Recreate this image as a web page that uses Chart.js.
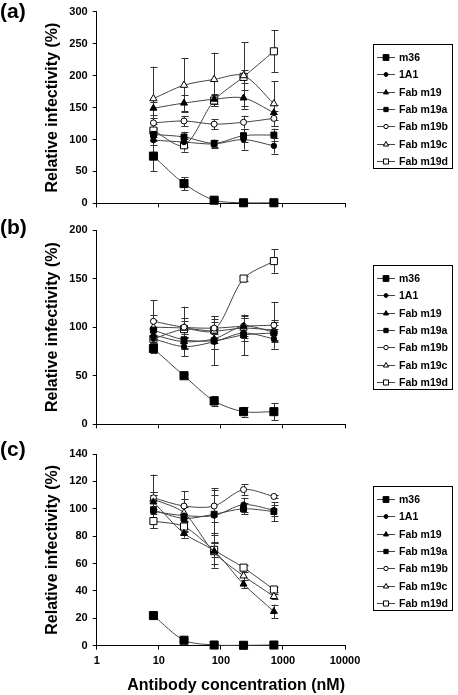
<!DOCTYPE html>
<html><head><meta charset="utf-8">
<script src="https://cdn.jsdelivr.net/npm/chart.js@4.4.0/dist/chart.umd.min.js"></script>
<style>
html,body{margin:0;padding:0;background:#fff;}
body{width:458px;height:695px;position:relative;overflow:hidden;font-family:"Liberation Sans",Arial,sans-serif;}
canvas{position:absolute;left:0;}
.lbl{position:absolute;left:0;font-weight:bold;font-size:21px;line-height:1;color:#000;}
</style></head><body>
<canvas id="ca" width="458" height="215" style="top:0px"></canvas>
<canvas id="cb" width="458" height="225" style="top:215px"></canvas>
<canvas id="cc" width="458" height="255" style="top:440px"></canvas>
<div class="lbl" style="top:0px">(a)</div>
<div class="lbl" style="top:216px">(b)</div>
<div class="lbl" style="top:438px">(c)</div>
<script>
// ---- data ----
const concentrations = [8.2, 25.5, 78, 232, 715];
const seriesNames = ['m36', '1A1', 'Fab m19', 'Fab m19a', 'Fab m19b', 'Fab m19c', 'Fab m19d'];
const xTickValues = [1, 10, 100, 1000, 10000];
const yTicksA = [0, 50, 100, 150, 200, 250, 300];
const yTicksB = [0, 50, 100, 150, 200];
const yTicksC = [0, 20, 40, 60, 80, 100, 120, 140];

// order: m36, 1A1, Fab m19, Fab m19a, Fab m19b, Fab m19c, Fab m19d
const valuesA = [
  [74, 31, 5, 1, 1],
  [99, 96, 93, 100, 90],
  [149, 157, 163, 165, 142],
  [108, 104, 94, 106, 107],
  [126, 129, 124, 127, 133],
  [164, 185, 194, 200, 156],
  [114, 91, 161, 198, 238]
];
const errorsA = [
  [24, 10, 2, 1, 1],
  [8, 8, 6, 16, 12],
  [10, 12, 8, 12, 12],
  [8, 8, 6, 10, 10],
  [8, 8, 8, 10, 12],
  [50, 42, 42, 52, 35],
  [10, 10, 8, 10, 33]
];
const valuesB = [
  [78, 50, 24, 13, 13],
  [88, 80, 85, 94, 88],
  [92, 85, 88, 101, 95],
  [97, 87, 86, 92, 94],
  [106, 100, 99, 101, 102],
  [100, 99, 96, 99, 97],
  [88, 98, 97, 150, 168]
];
const errorsB = [
  [5, 2, 5, 5, 9],
  [8, 10, 8, 8, 10],
  [8, 8, 10, 8, 10],
  [10, 10, 25, 21, 8],
  [22, 21, 12, 10, 24],
  [12, 10, 12, 10, 10],
  [8, 8, 8, 3, 12]
];
const valuesC = [
  [22, 4, 0.5, 0.3, 0.5],
  [98, 95, 95, 103, 99],
  [105, 82, 69, 45, 25],
  [99, 93, 96, 100, 98],
  [108, 102, 102, 114, 109],
  [107, 97, 68, 51, 36],
  [91, 87, 70, 57, 41]
];
const errorsC = [
  [1.5, 1, 0, 0, 0],
  [12, 12, 20, 5, 4],
  [5, 3, 12, 3, 5],
  [13, 14, 14, 4, 7],
  [17, 11, 12, 4, 1],
  [5, 4, 8, 3, 2],
  [5, 3, 5, 2, 2]
];

// ---- styles ----
const markerStyles = [
  {pointStyle: 'rect', radius: 5.7, fill: '#000'},
  {pointStyle: 'circle', radius: 2.7, fill: '#000'},
  {pointStyle: 'triangle', radius: 4, fill: '#000'},
  {pointStyle: 'rect', radius: 4.2, fill: '#000'},
  {pointStyle: 'circle', radius: 3, fill: '#fff'},
  {pointStyle: 'triangle', radius: 4.2, fill: '#fff'},
  {pointStyle: 'rect', radius: 5, fill: '#fff'}
];
const FONT = '"Liberation Sans", Arial, sans-serif';

const errorBarPlugin = {
  id: 'errorBars',
  beforeDatasetsDraw(chart) {
    const ctx = chart.ctx, ys = chart.scales.y;
    ctx.save();
    ctx.strokeStyle = '#333';
    ctx.lineWidth = 1;
    chart.data.datasets.forEach((ds, i) => {
      const meta = chart.getDatasetMeta(i);
      meta.data.forEach((pt, j) => {
        const e = ds.errors[j];
        if (!e) return;
        const v = ds.data[j].y;
        const t = ys.getPixelForValue(v + e);
        const b = ys.getPixelForValue(Math.max(v - e, 0));
        const x = Math.round(pt.x) + 0.5;
        ctx.beginPath();
        ctx.moveTo(x, t); ctx.lineTo(x, b);
        ctx.moveTo(x - 3, Math.round(t) + 0.5); ctx.lineTo(x + 4, Math.round(t) + 0.5);
        ctx.moveTo(x - 3, Math.round(b) + 0.5); ctx.lineTo(x + 4, Math.round(b) + 0.5);
        ctx.stroke();
      });
    });
    ctx.restore();
  }
};

const boxLegendPlugin = {
  id: 'boxLegend',
  afterDraw(chart, args, opts) {
    const ctx = chart.ctx;
    const {left, top, width, height, firstY, rowH} = opts;
    ctx.save();
    ctx.strokeStyle = '#000';
    ctx.lineWidth = 1;
    ctx.strokeRect(left + 0.5, top + 0.5, width, height);
    ctx.font = 'bold 10.5px ' + FONT;
    ctx.textBaseline = 'middle';
    chart.data.datasets.forEach((ds, i) => {
      const yy = Math.round(top + firstY + i * rowH);
      ctx.strokeStyle = '#444';
      ctx.beginPath();
      ctx.moveTo(left + 4, yy + 0.5); ctx.lineTo(left + 22, yy + 0.5);
      ctx.stroke();
      ctx.fillStyle = ds.pointBackgroundColor;
      ctx.strokeStyle = '#000';
      ctx.lineWidth = 1;
      Chart.helpers.drawPoint(ctx, {pointStyle: ds.pointStyle, radius: ds.pointRadius * 0.72, borderWidth: 1, rotation: 0}, left + 13, yy + 0.5);
      ctx.fillStyle = '#000';
      ctx.fillText(ds.label, left + 26, yy + 1);
    });
    ctx.restore();
  }
};

function makePanel(id, values, errors, yTicks, plotTop, plotBottom, canvasH, legendTop, showX) {
  const datasets = seriesNames.map((name, i) => ({
    label: name,
    data: concentrations.map((c, k) => ({x: c, y: values[i][k]})),
    errors: errors[i],
    borderColor: '#444',
    borderWidth: 1,
    tension: 0.3,
    pointStyle: markerStyles[i].pointStyle,
    pointRadius: markerStyles[i].radius,
    pointBackgroundColor: markerStyles[i].fill,
    pointBorderColor: '#000',
    pointBorderWidth: 1,
    clip: false
  }));
  return new Chart(document.getElementById(id), {
    type: 'line',
    data: {datasets},
    plugins: [errorBarPlugin, boxLegendPlugin],
    options: {
      responsive: false,
      animation: false,
      devicePixelRatio: 1,
      layout: {padding: {top: plotTop, left: 0, right: 113, bottom: 0}},
      plugins: {
        legend: {display: false},
        tooltip: {enabled: false},
        boxLegend: {left: 373, top: legendTop, width: 79, height: 124, firstY: 13, rowH: 17.3}
      },
      scales: {
        x: {
          type: 'logarithmic',
          min: 1, max: 10000,
          afterBuildTicks: s => { s.ticks = xTickValues.map(v => ({value: v})); },
          afterFit: s => { s.height = canvasH - plotBottom; },
          ticks: {display: showX, callback: v => String(v), color: '#000', font: {family: FONT, size: 11, weight: 'bold'}, padding: 5, maxRotation: 0, autoSkip: false},
          grid: {display: true, drawOnChartArea: false, drawTicks: true, tickLength: 4, color: '#000'},
          border: {display: true, color: '#000', width: 1},
          title: {display: showX, text: 'Antibody concentration (nM)', align: 'end', color: '#000', font: {family: FONT, size: 16, weight: 'bold'}, padding: {top: 0, bottom: 0}}
        },
        y: {
          type: 'linear',
          min: yTicks[0], max: yTicks[yTicks.length - 1],
          afterBuildTicks: s => { s.ticks = yTicks.map(v => ({value: v})); },
          afterFit: s => { s.width = 96.7; },
          ticks: {color: '#000', font: {family: FONT, size: 11, weight: 'bold'}, padding: 5},
          grid: {display: true, drawOnChartArea: false, drawTicks: true, tickLength: 4, color: '#000'},
          border: {display: true, color: '#000', width: 1},
          title: {display: true, text: 'Relative infectivity (%)', color: '#000', font: {family: FONT, size: 16, weight: 'bold'}, padding: {top: 43, bottom: 0}}
        }
      }
    }
  });
}

makePanel('ca', valuesA, errorsA, yTicksA, 11.7, 205.7, 215, 44, false);
makePanel('cb', valuesB, errorsB, yTicksB, 15, 209.3, 225, 50, false);
makePanel('cc', valuesC, errorsC, yTicksC, 14, 205.7, 255, 46, true);
</script>
</body></html>
